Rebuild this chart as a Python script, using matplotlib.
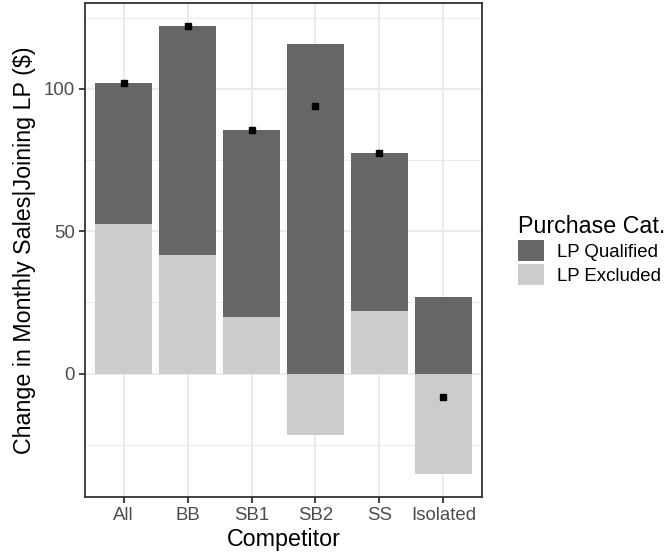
import numpy as np
import matplotlib
matplotlib.use('Agg')
import matplotlib.pyplot as plt
from matplotlib.patches import Patch

# 数据
competitors = ['All', 'BB', 'SB1', 'SB2', 'SS', 'Isolated']
lp_qualified = [49.3, 80.6, 65.6, 115.8, 55.5, 26.8]
lp_excluded = [52.6, 41.5, 19.8, -21.7, 21.9, -35.4]
net_change = [101.9, 122.2, 85.5, 94.1, 77.4, -8.4]

categories = ['LP Qualified', 'LP Excluded']
colors = {'LP Qualified': '#666666', 'LP Excluded': '#CCCCCC'}

plt.rcParams['font.family'] = ['Liberation Sans', 'DejaVu Sans']

fig = plt.figure(figsize=(6.7, 5.58), dpi=100)
ax = fig.add_axes([0.1273, 0.1099, 0.5917, 0.8842])

x = np.arange(len(competitors))
q = np.array(lp_qualified)
e = np.array(lp_excluded)

# position_stack: 正值与负值分别堆叠
e_bottom = np.zeros_like(e)
q_bottom = np.where((q >= 0) & (e >= 0), e, 0.0)
q_bottom = np.where((q < 0) & (e < 0), e, q_bottom)

ax.bar(x, e, width=0.9, bottom=e_bottom, color=colors['LP Excluded'], zorder=2)
ax.bar(x, q, width=0.9, bottom=q_bottom, color=colors['LP Qualified'], zorder=2)
ax.plot(x, net_change, linestyle='none', marker='s', markersize=4.6,
        color='black', zorder=3)

lo = min(np.minimum(e, 0).min(), min(net_change))
hi = max((q_bottom + q).max(), max(net_change))
pad = (hi - lo) * 0.05
ax.set_ylim(lo - pad, hi + pad)
ax.set_xlim(-0.6, len(competitors) - 0.4)

ax.set_yticks([0, 50, 100])
ax.set_yticks([-25, 25, 75, 125], minor=True)
ax.set_xticks(x)
ax.set_xticklabels(competitors)

ax.grid(True, which='major', color='#EBEBEB', linewidth=1.4, zorder=0)
ax.grid(True, which='minor', axis='y', color='#EBEBEB', linewidth=0.7, zorder=0)
ax.set_axisbelow(True)

for s in ax.spines.values():
    s.set_color('#333333')
    s.set_linewidth(1.3)

ax.tick_params(axis='both', which='major', length=4.3, width=1.3, color='#333333',
               labelsize=13.4, labelcolor='#4D4D4D', pad=3)
ax.tick_params(axis='y', which='minor', length=0)

ax.set_xlabel('Competitor', fontsize=16.75, color='black', labelpad=3)
ax.set_ylabel('Change in Monthly Sales|Joining LP (\\$)', fontsize=16.75,
              color='black', labelpad=6)

handles = [Patch(facecolor=colors[c], edgecolor='none', label=c) for c in categories]
leg = ax.legend(handles=handles, title='Purchase Cat.', loc='center left',
                bbox_to_anchor=(0.773, 0.552), bbox_transform=fig.transFigure,
                frameon=False, fontsize=13.4, title_fontsize=16.75,
                handlelength=1.38, handleheight=1.38, handletextpad=0.7,
                labelspacing=0.12, borderpad=0, borderaxespad=0,
                alignment='left')

fig.savefig('out.png', dpi=100)
